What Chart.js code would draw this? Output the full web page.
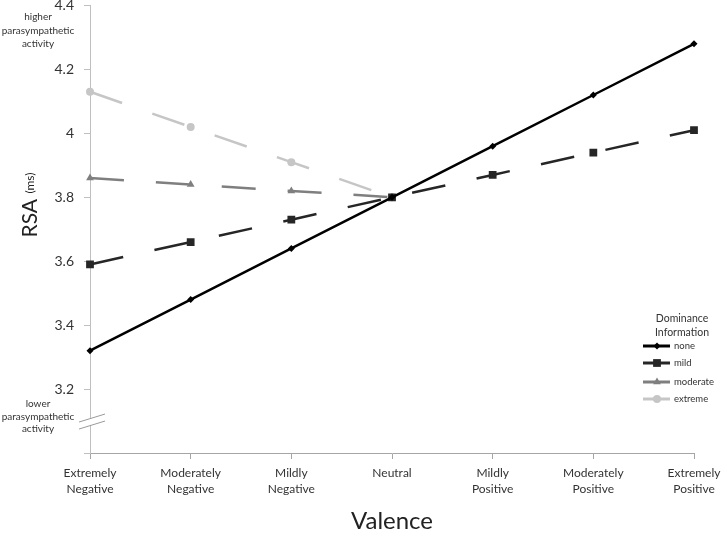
<!DOCTYPE html>
<html><head><meta charset="utf-8">
<script src="https://cdn.jsdelivr.net/npm/chart.js@4/dist/chart.umd.min.js"></script>
<style>html,body{margin:0;padding:0;background:#fff}#wrap{width:727px;height:536px;position:relative}</style>
</head><body><div id="wrap"><canvas id="c" width="727" height="536"></canvas></div>
<script>
const categories = [["Extremely","Negative"],["Moderately","Negative"],["Mildly","Negative"],["Neutral"],["Mildly","Positive"],["Moderately","Positive"],["Extremely","Positive"]];
const seriesNames = ["none","mild","moderate","extreme"];
const noneValues = [3.32,3.48,3.64,3.80,3.96,4.12,4.28];
const mildValues = [3.59,3.66,3.73,3.80,3.87,3.94,4.01];
const moderateValues = [3.86,3.84,3.82,3.80,null,null,null];
const extremeValues = [4.13,4.02,3.91,3.80,null,null,null];
const yTickValues = [3.0,3.2,3.4,3.6,3.8,4,4.2,4.4];
const yAxisMin = 3.0, yAxisMax = 4.4;
const legendTitle = ["Dominance","Information"];
const upperNote = ["higher","parasympathetic","activity"];
const lowerNote = ["lower","parasympathetic","activity"];

const FONT = "Lato, 'Open Sans', sans-serif";
const DASH = [34, 32];

const decor = {
  id: 'decor',
  afterDraw(chart) {
    const ctx = chart.ctx;
    const ca = chart.chartArea;
    const ys = chart.scales.y;
    ctx.save();
    // axis break marks
    const ax = ca.left;
    const yb = ys.getPixelForValue(3.1) - 3;
    ctx.fillStyle = '#fff';
    ctx.beginPath();
    ctx.moveTo(ax - 5, yb + 1.5); ctx.lineTo(ax + 5, yb - 1.5);
    ctx.lineTo(ax + 5, yb + 5.5); ctx.lineTo(ax - 5, yb + 8.5); ctx.closePath(); ctx.fill();
    ctx.strokeStyle = '#9a9a9a'; ctx.lineWidth = 1;
    ctx.beginPath();
    ctx.moveTo(ax - 11, yb + 4); ctx.lineTo(ax + 15, yb - 4);
    ctx.moveTo(ax - 11, yb + 11); ctx.lineTo(ax + 15, yb + 3);
    ctx.stroke();
    // side notes
    ctx.fillStyle = '#333';
    ctx.font = "10px " + FONT;
    ctx.textAlign = 'center'; ctx.textBaseline = 'middle';
    upperNote.forEach((t, i) => ctx.fillText(t, 38, 17 + i * 13.5));
    lowerNote.forEach((t, i) => ctx.fillText(t, 38, 404 + i * 12.5));
    // y title: RSA (ms)
    ctx.save();
    ctx.translate(30, 205);
    ctx.rotate(-Math.PI / 2);
    ctx.font = "21px " + FONT;
    const w1 = ctx.measureText("RSA ").width;
    ctx.font = "12px " + FONT;
    const w2 = ctx.measureText("(ms)").width;
    const start = -(w1 + w2) / 2;
    ctx.textAlign = 'left'; ctx.textBaseline = 'alphabetic';
    ctx.fillStyle = '#222';
    ctx.font = "21px " + FONT;
    ctx.fillText("RSA", start, 7);
    ctx.font = "12px " + FONT;
    ctx.fillText("(ms)", start + w1, 4);
    ctx.restore();
    // legend
    ctx.fillStyle = '#333';
    ctx.font = "10.5px " + FONT;
    ctx.textAlign = 'center'; ctx.textBaseline = 'middle';
    legendTitle.forEach((t, i) => ctx.fillText(t, 682, 319 + i * 14));
    const rows = [346, 363, 382, 399];
    chart.data.datasets.forEach((ds, i) => {
      const y = rows[i];
      ctx.strokeStyle = ds.borderColor; ctx.lineWidth = 3; ctx.setLineDash([]);
      ctx.beginPath(); ctx.moveTo(643, y); ctx.lineTo(670, y); ctx.stroke();
      ctx.fillStyle = ds.borderColor;
      const r = ds.pointRadius;
      const x = 657;
      ctx.beginPath();
      if (ds.pointStyle === 'rectRot') { ctx.moveTo(x, y - r); ctx.lineTo(x + r, y); ctx.lineTo(x, y + r); ctx.lineTo(x - r, y); ctx.closePath(); }
      else if (ds.pointStyle === 'rect') { const s = r * Math.SQRT1_2; ctx.rect(x - s, y - s, 2 * s, 2 * s); }
      else if (ds.pointStyle === 'triangle') { ctx.moveTo(x, y - r); ctx.lineTo(x + r * 0.87, y + r * 0.5); ctx.lineTo(x - r * 0.87, y + r * 0.5); ctx.closePath(); }
      else { ctx.arc(x, y, r, 0, Math.PI * 2); }
      ctx.fill();
      ctx.fillStyle = '#333';
      ctx.font = "9.5px " + FONT;
      ctx.textAlign = 'left';
      ctx.fillText(ds.label, 674, y);
    });
    ctx.restore();
  }
};

function mk(label, data, color, style, radius, dash, width) {
  return { label, data, borderColor: color, backgroundColor: color, pointBackgroundColor: color,
    pointBorderColor: color, pointStyle: style, pointRadius: radius, pointBorderWidth: 0,
    borderWidth: width, borderDash: dash, spanGaps: false, tension: 0, fill: false };
}

new Chart(document.getElementById('c'), {
  type: 'line',
  data: {
    labels: categories,
    datasets: [
      mk(seriesNames[0], noneValues, '#000000', 'rectRot', 3.5, [], 2.5),
      mk(seriesNames[1], mildValues, '#262626', 'rect', 5.5, DASH, 2.5),
      mk(seriesNames[2], moderateValues, '#7f7f7f', 'triangle', 4.5, DASH, 2.5),
      mk(seriesNames[3], extremeValues, '#c6c6c6', 'circle', 4, DASH, 2.5)
    ]
  },
  options: {
    responsive: false, animation: false, devicePixelRatio: 1,
    layout: { padding: { left: 0, top: 5, right: 33, bottom: 0 } },
    plugins: { legend: { display: false }, tooltip: { enabled: false } },
    scales: {
      x: {
        offset: false,
        grid: { display: true, drawOnChartArea: false, drawTicks: true, tickLength: 6, color: '#a6a6a6' },
        border: { display: true, color: '#a6a6a6', width: 1 },
        ticks: { color: '#333', font: { family: FONT, size: 12, lineHeight: 1.35 }, padding: 6, maxRotation: 0, autoSkip: false },
        title: { display: true, text: 'Valence', color: '#222', font: { family: FONT, size: 24, lineHeight: 1.2 }, padding: { top: 0, bottom: 0 } },
        afterFit(s) { s.height = 83; }
      },
      y: {
        min: yAxisMin, max: yAxisMax,
        afterBuildTicks(s) { s.ticks = yTickValues.map(v => ({ value: v })); },
        grid: { display: true, drawOnChartArea: false, drawTicks: true, tickLength: 6, color: '#bfbfbf' },
        border: { display: true, color: '#bfbfbf', width: 1 },
        ticks: { color: '#333', font: { family: FONT, size: 14 }, padding: 10,
          callback: (v) => (Math.abs(v - yAxisMin) < 1e-9 ? '' : String(+Number(v).toFixed(1))) },
        afterFit(s) { s.width = 90; s.paddingTop = 0; s.paddingBottom = 0; }
      }
    }
  },
  plugins: [decor]
});
</script></body></html>
